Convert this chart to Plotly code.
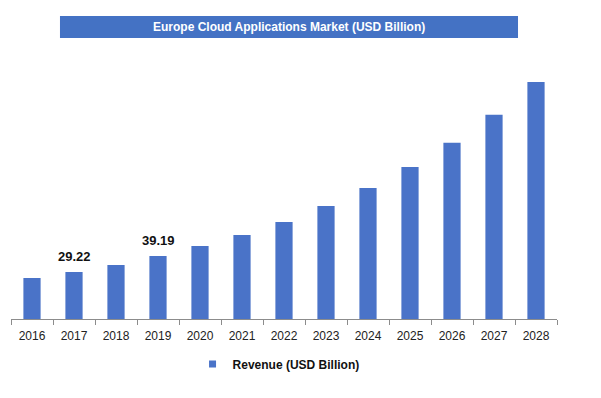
import plotly.graph_objects as go

years = ["2016", "2017", "2018", "2019", "2020", "2021", "2022", "2023", "2024", "2025", "2026", "2027", "2028"]
revenue = [25.5, 29.22, 33.6, 39.19, 45.4, 52.2, 60.3, 70.3, 81.5, 94.5, 109.5, 126.9, 147.4]
labels = ["", "29.22", "", "39.19", "", "", "", "", "", "", "", "", ""]
title_text = "Europe Cloud Applications Market (USD Billion)"
series_name = "Revenue (USD Billion)"
bar_color = "#4a73c8"

fig = go.Figure()
fig.add_trace(go.Bar(
    x=years, y=revenue, name=series_name, showlegend=False,
    marker=dict(color=bar_color, line=dict(width=0)),
))
fig.add_trace(go.Scatter(
    x=[None], y=[None], mode="markers", name=series_name, showlegend=True,
    marker=dict(symbol="square", size=7, color=bar_color),
))

annotations = [dict(text=title_text, xref="paper", yref="paper", x=0.509, y=1.1275,
                    xanchor="center", yanchor="middle", showarrow=False,
                    font=dict(family="Liberation Sans", size=12, color="white", weight="bold"))]
for i, (val, lab) in enumerate(zip(revenue, labels)):
    if lab:
        annotations.append(dict(text=lab, x=i, y=val, xref="x", yref="y", yanchor="bottom",
                                yshift=6, showarrow=False,
                                font=dict(family="Liberation Sans", size=13, color="#111111", weight="bold")))

fig.update_layout(
    width=601, height=398,
    margin=dict(l=3, r=52, t=52, b=87),
    paper_bgcolor="white", plot_bgcolor="white",
    bargap=0.59,
    showlegend=True,
    legend=dict(orientation="h", x=0.49, xanchor="center", y=-0.174, yanchor="middle",
                font=dict(family="Liberation Sans", size=12, color="#111111", weight="bold"),
                itemwidth=30),
    font=dict(family="Liberation Sans"),
    shapes=[dict(type="rect", xref="paper", yref="paper", x0=0.0897, x1=0.9286, y0=1.085, y1=1.17,
                 fillcolor="#4472c4", line=dict(width=0), layer="above")],
    annotations=annotations,
)
fig.update_xaxes(type="category", categoryorder="array", categoryarray=years,
                 range=[-0.5, len(years) - 0.5],
                 showline=True, linecolor="#8c8c8c", linewidth=1, ticks="outside", tickson="boundaries",
                 ticklen=5, tickcolor="#8c8c8c", tickfont=dict(size=12, color="#222222"), showgrid=False,
                 ticklabelstandoff=6)
fig.update_yaxes(range=[0, 161], visible=False, showgrid=False)

fig.write_html("out.html")
